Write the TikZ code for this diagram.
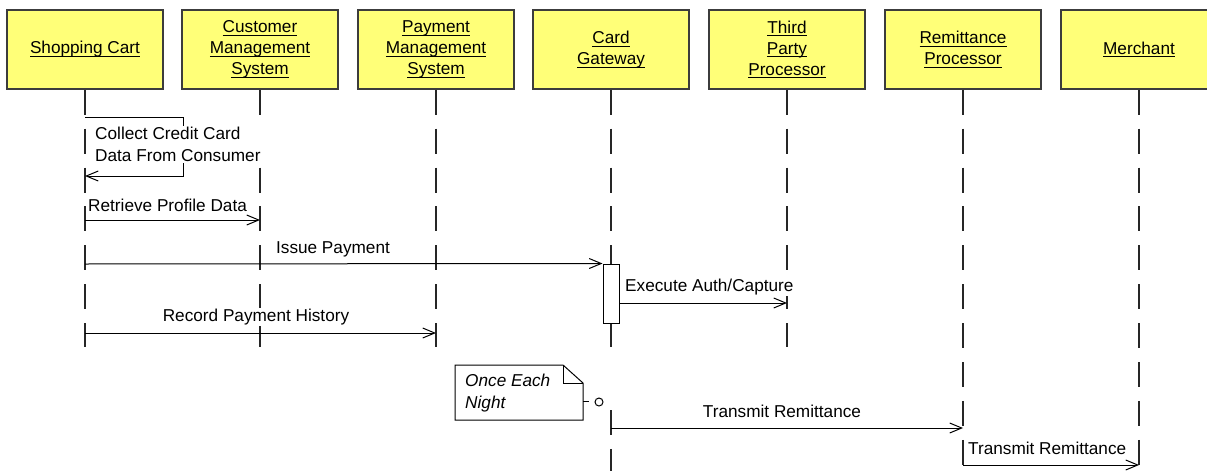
\documentclass[tikz,border=0pt]{standalone}
\usepackage{fontspec}
\setmainfont{Liberation Sans}
\usetikzlibrary{arrows.meta}
\definecolor{objyellow}{RGB}{255,255,120}
\definecolor{objline}{RGB}{60,60,60}
\newcommand\uln[1]{\setbox0=\hbox{#1}\rlap{\rule[-3.2pt]{\wd0}{1pt}}\box0}
\newcommand\lblfont{\fontsize{17.2}{21}\selectfont}
\newcommand\msgfont{\fontsize{17.2}{22}\selectfont}
\tikzset{
  obj/.style={draw=objline, line width=1.4pt, fill=objyellow, minimum width=156pt,
    minimum height=79pt, inner sep=0pt, align=center, font=\lblfont},
  life/.style={draw=black!85, line width=1.1pt, dash pattern=on 25pt off 13.9pt},
  act/.style={draw=black, line width=1pt, fill=white, minimum width=16pt,
    minimum height=59pt, inner sep=0pt},
  msg/.style={draw=black, line width=1pt,
    -{Straight Barb[length=12pt,width=10pt,line width=1pt]}},
  plain/.style={draw=black, line width=1pt},
  lbl/.style={font=\msgfont, inner xsep=2pt, inner ysep=1pt, fill=white, text=black},
  notebox/.style={draw=black, line width=1pt, fill=white},
}
\begin{document}
\begin{tikzpicture}[x=1pt,y=-1pt]
\useasboundingbox (0,0) rectangle (1207,471);
\clip (0,0) rectangle (1207,471);

% objects
\node[obj] (sc)  at (85,49.5)   {\uln{Shopping Cart}};
\node[obj] (cms) at (260,49.5)  {\uln{Customer}\\\uln{Management}\\\uln{System}};
\node[obj] (pms) at (436,49.5)  {\uln{Payment}\\\uln{Management}\\\uln{System}};
\node[obj] (cg)  at (611,49.5)  {\uln{Card}\\\uln{Gateway}};
\node[obj] (tpp) at (787,49.5)  {\uln{Third}\\\uln{Party}\\\uln{Processor}};
\node[obj] (rp)  at (963,49.5)  {\uln{Remittance}\\\uln{Processor}};
\node[obj] (mer) at (1139,49.5) {\uln{Merchant}};

% lifeline ends
\coordinate (scE)  at (85,347);
\coordinate (cmsE) at (260,347);
\coordinate (pmsE) at (436,347);
\coordinate (cgE)  at (611,347);
\coordinate (cgS2) at (611,410);
\coordinate (cgE2) at (611,471);
\coordinate (tppE) at (787,347);
\coordinate (rpE)  at (963,465);
\coordinate (merE) at (1139,465);

\draw[life] (sc.south) -- (scE);
\draw[life] (cms.south) -- (cmsE);
\draw[life] (pms.south) -- (pmsE);
\draw[life] (cg.south) -- (cgE);
\draw[life] (cgS2) -- (cgE2);
\draw[life] (tpp.south) -- (tppE);
\draw[life] (rp.south) -- (rpE);
\draw[life] (mer.south) -- (merE);

% self message
\coordinate (sA) at (85,117);
\coordinate (sB) at (183,117);
\coordinate (sC) at (183,176);
\coordinate (sD) at (85,176);
\draw[msg] (sA) -- (sB) -- (sC) -- (sD);
\node[lbl, anchor=north west, align=left] (smL) at (93,126)
  {Collect Credit Card\\Data From Consumer};

% activation
\node[act] (actv) at (611,293.5) {};

% message coordinates
\coordinate (rpA) at (85,220);
\coordinate (rpB) at (260,220);
\coordinate (ipA) at (85,264);
\coordinate (exA) at (619,303);
\coordinate (exB) at (787,303);
\coordinate (rhA) at (85,333);
\coordinate (rhB) at (436,333);
\coordinate (t1A) at (611,428);
\coordinate (t1B) at (963,428);
\coordinate (t2A) at (963,465);
\coordinate (t2B) at (1139,465);

% labels
\node[lbl, anchor=west] (rpL) at (86,205) {Retrieve Profile Data};
\node[lbl] (ipL) at (333,249) {Issue Payment};
\node[lbl, anchor=west] (exL) at (623,287) {Execute Auth/Capture};
\node[lbl] (rhL) at (256,317) {Record Payment History};
\node[lbl] (t1L) at (782,411) {Transmit Remittance};
\node[lbl, anchor=west] (t2L) at (966,448) {Transmit Remittance};

% messages
\draw[msg] (rpA) -- (rpB);
\draw[msg] (ipA) -- (actv.north west);
\draw[msg] (exA) -- (exB);
\draw[msg] (rhA) -- (rhB);
\draw[msg] (t1A) -- (t1B);
\draw[msg] (t2A) -- (t2B);

% note
\draw[notebox] (455,365) -- (563,365) -- (583,383) -- (583,420) -- (455,420) -- cycle;
\draw[plain] (563,365) -- (563,383) -- (583,383);
\node[font=\msgfont\itshape, anchor=west, align=left, inner sep=0pt] (nt) at (465,393)
  {Once Each\\Night};
\coordinate (ncA) at (583,401);
\coordinate (ncB) at (588.5,401);
\draw[plain] (ncA) -- (ncB);
\node[draw=black, line width=1pt, circle, minimum size=8pt, inner sep=0pt] (oc) at (599,402) {};
\end{tikzpicture}
\end{document}
